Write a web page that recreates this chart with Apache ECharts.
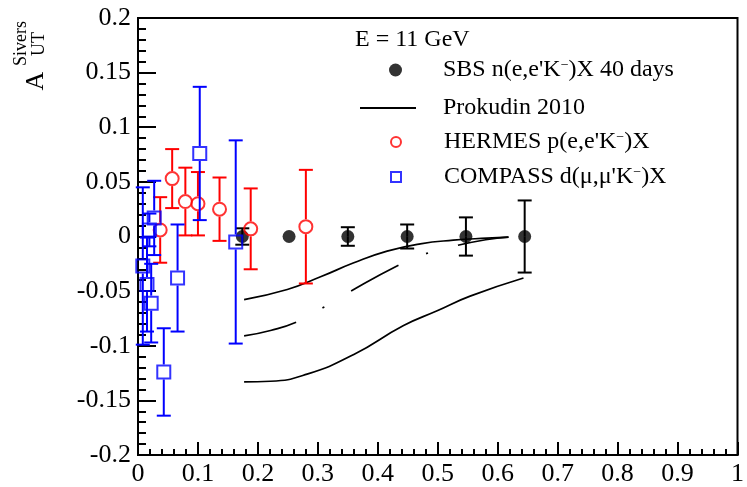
<!DOCTYPE html>
<html>
<head>
<meta charset="utf-8">
<script src="https://cdn.jsdelivr.net/npm/echarts@6/dist/echarts.min.js"></script>
<style>
  html, body { margin: 0; padding: 0; background: #fff; }
  #chart { width: 747px; height: 487px; }
</style>
</head>
<body>
<div id="chart"></div>
<script>
// Tick labels
const xTickLabels = ['0', '0.1', '0.2', '0.3', '0.4', '0.5', '0.6', '0.7', '0.8', '0.9', '1'];
const yTickLabels = ['-0.2', '-0.15', '-0.1', '-0.05', '0', '0.05', '0.1', '0.15', '0.2'];

// SBS n(e,e'K-)X projection, 40 days
const sbsX   = [0.174, 0.252, 0.350, 0.449, 0.547, 0.645];
const sbsY   = [0.000, 0.000, 0.000, 0.000, 0.000, 0.000];
const sbsErr = [0.0075, 0.004, 0.0085, 0.011, 0.0175, 0.033];

// HERMES p(e,e'K-)X
const hermesX   = [0.037, 0.057, 0.079, 0.100, 0.136, 0.188, 0.280];
const hermesY   = [0.006, 0.053, 0.032, 0.030, 0.025, 0.007, 0.009];
const hermesErr = [0.030, 0.027, 0.031, 0.029, 0.029, 0.037, 0.052];

// COMPASS d(mu,mu'K-)X
const compassX   = [0.008, 0.015, 0.022, 0.019, 0.027, 0.043, 0.066, 0.103, 0.163];
const compassY   = [-0.027, -0.044, -0.061, 0.006, 0.017, -0.124, -0.038, 0.076, -0.005];
const compassErr = [0.072, 0.043, 0.036, 0.015, 0.034, 0.040, 0.049, 0.061, 0.093];

// Prokudin 2010 prediction: upper band edge, central curve, lower band edge
const prokUpperX = [0.177, 0.249, 0.3045, 0.360, 0.4155, 0.471, 0.526, 0.582, 0.618];
const prokUpperY = [-0.0577, -0.0485, -0.0369, -0.0241, -0.0134, -0.0067, -0.0034, -0.0015, -0.0006];
const prokMidX = [0.177, 0.221, 0.266, 0.309, 0.352, 0.432, 0.479, 0.526, 0.580, 0.618];
const prokMidY = [-0.091, -0.086, -0.078, -0.065, -0.051, -0.027, -0.016, -0.009, -0.003, -0.0006];
const prokLowX = [0.177, 0.221, 0.282, 0.360, 0.443, 0.499, 0.554, 0.643];
const prokLowY = [-0.133, -0.1325, -0.126, -0.108, -0.0815, -0.068, -0.0546, -0.038];

const SBS_NAME = "SBS n(e,e'K⁻)X 40 days";
const PROK_NAME = 'Prokudin 2010';
const HERMES_NAME = "HERMES p(e,e'K⁻)X";
const COMPASS_NAME = "COMPASS d(μ,μ'K⁻)X";

const FONT = '"Liberation Serif", "Times New Roman", serif';
const RED = '#ff0000';
const BLUE = '#0000ff';
const BLACK = '#000000';

const pairs = (xs, ys) => xs.map((x, i) => [x, ys[i]]);
const triples = (xs, ys, es) => xs.map((x, i) => [x, ys[i], es[i]]);

// Vertical error bars with end caps; the bar is interrupted around hollow
// markers and omitted when it would not reach past the marker
function errorBars(xs, ys, es, color, gap, minLen, z) {
  return {
    type: 'custom',
    z: z,
    silent: true,
    data: triples(xs, ys, es),
    encode: { x: 0, y: 1 },
    renderItem: function (params, api) {
      const x = api.value(0), y = api.value(1), e = api.value(2);
      const c = api.coord([x, y]);
      const t = api.coord([x, y + e]);
      const b = api.coord([x, y - e]);
      const cap = 7;
      const style = { stroke: color, lineWidth: 2, fill: null };
      const kids = [];
      if (c[1] - t[1] < minLen) {
        return { type: 'group', children: [] };
      }
      if (t[1] < c[1] - gap) {
        kids.push({ type: 'line', shape: { x1: c[0], y1: c[1] - gap, x2: c[0], y2: t[1] }, style });
      }
      if (b[1] > c[1] + gap) {
        kids.push({ type: 'line', shape: { x1: c[0], y1: c[1] + gap, x2: c[0], y2: b[1] }, style });
      }
      kids.push({ type: 'line', shape: { x1: c[0] - cap, y1: t[1], x2: c[0] + cap, y2: t[1] }, style });
      kids.push({ type: 'line', shape: { x1: c[0] - cap, y1: b[1], x2: c[0] + cap, y2: b[1] }, style });
      return { type: 'group', children: kids };
    }
  };
}

function legendText(padLeft) {
  return {
    fontFamily: FONT,
    fontSize: 24,
    lineHeight: 24,
    color: BLACK,
    padding: [0, 0, 0, padLeft],
    rich: {
      sup: { fontFamily: FONT, fontSize: 14, lineHeight: 10, verticalAlign: 'top', color: BLACK }
    }
  };
}
const legendFormatter = name => name.replace('⁻', '{sup|−}');

// Serif tick labels via a rich style
const tickRich = { t: { fontFamily: FONT, fontSize: 26, color: BLACK, lineHeight: 26 } };

const chart = echarts.init(document.getElementById('chart'), null, { renderer: 'canvas' });

chart.setOption({
  animation: false,
  backgroundColor: '#ffffff',
  textStyle: { fontFamily: FONT },
  grid: {
    left: 138, right: 9, top: 18, bottom: 32,
    show: true, borderColor: BLACK, borderWidth: 2, backgroundColor: 'transparent'
  },
  xAxis: {
    type: 'value', min: 0, max: 1, interval: 0.1,
    axisLine: { show: true, onZero: false, lineStyle: { color: BLACK, width: 2 } },
    axisTick: { show: true, inside: true, length: 13, lineStyle: { color: BLACK, width: 2 } },
    minorTick: { show: true, splitNumber: 5, length: 6, lineStyle: { color: BLACK, width: 2 } },
    splitLine: { show: false },
    axisLabel: {
      fontFamily: FONT, fontSize: 26, color: BLACK, margin: 6, rich: tickRich,
      formatter: v => '{t|' + xTickLabels[Math.round(v / 0.1)] + '}'
    }
  },
  yAxis: {
    type: 'value', min: -0.2, max: 0.2, interval: 0.05,
    axisLine: { show: true, onZero: false, lineStyle: { color: BLACK, width: 2 } },
    axisTick: { show: true, inside: true, length: 18, lineStyle: { color: BLACK, width: 2 } },
    minorTick: { show: true, splitNumber: 5, length: 8, lineStyle: { color: BLACK, width: 2 } },
    splitLine: { show: false },
    axisLabel: {
      fontFamily: FONT, fontSize: 26, color: BLACK, margin: 7, rich: tickRich,
      formatter: v => '{t|' + yTickLabels[Math.round((v + 0.2) / 0.05)] + '}'
    }
  },
  legend: [
    {
      selectedMode: false, padding: 0, left: 389, top: 58,
      itemWidth: 13, itemHeight: 13,
      textStyle: legendText(36), formatter: legendFormatter,
      data: [{ name: SBS_NAME, icon: 'circle', itemStyle: { color: BLACK, borderWidth: 0 } }]
    },
    {
      selectedMode: false, padding: 0, left: 360, top: 96,
      itemWidth: 56, itemHeight: 2,
      textStyle: legendText(22), formatter: legendFormatter,
      data: [{ name: PROK_NAME, icon: 'rect', itemStyle: { color: BLACK, borderWidth: 0 } }]
    },
    {
      selectedMode: false, padding: 0, left: 390, top: 130, orient: 'vertical',
      itemWidth: 10, itemHeight: 10, itemGap: 11,
      textStyle: legendText(38), formatter: legendFormatter,
      data: [
        { name: HERMES_NAME, icon: 'circle', itemStyle: { color: 'rgba(0,0,0,0)', borderColor: RED, borderWidth: 2 } },
        { name: COMPASS_NAME, icon: 'rect', itemStyle: { color: 'rgba(0,0,0,0)', borderColor: BLUE, borderWidth: 2 } }
      ]
    }
  ],
  graphic: [
    { type: 'text', x: 355, y: 40, silent: true,
      style: { text: 'E = 11 GeV', font: '24px "Liberation Serif"', fill: BLACK, textAlign: 'left', textVerticalAlign: 'middle' } },
    { type: 'text', x: 36.5, y: 81, rotation: Math.PI / 2, silent: true,
      style: { text: 'A', font: '26px "Liberation Serif"', fill: BLACK, textAlign: 'center', textVerticalAlign: 'middle' } },
    { type: 'text', x: 21, y: 43.5, rotation: Math.PI / 2, silent: true,
      style: { text: 'Sivers', font: '18px "Liberation Serif"', fill: BLACK, textAlign: 'center', textVerticalAlign: 'middle' } },
    { type: 'text', x: 39, y: 44, rotation: Math.PI / 2, silent: true,
      style: { text: 'UT', font: '18px "Liberation Serif"', fill: BLACK, textAlign: 'center', textVerticalAlign: 'middle' } }
  ],
  series: [
    errorBars(sbsX, sbsY, sbsErr, BLACK, 0, 6.5, 2),
    {
      name: SBS_NAME, type: 'scatter', z: 3, symbol: 'circle', symbolSize: 13,
      itemStyle: { color: BLACK },
      emphasis: { disabled: true },
      data: pairs(sbsX, sbsY)
    },
    {
      name: PROK_NAME, type: 'line', z: 4, smooth: 0.5, symbol: 'none',
      itemStyle: { color: BLACK }, lineStyle: { color: BLACK, width: 1.7 },
      emphasis: { disabled: true },
      data: pairs(prokUpperX, prokUpperY)
    },
    {
      name: 'Prokudin 2010 central', type: 'line', z: 4, smooth: 0.5, symbol: 'none',
      itemStyle: { color: BLACK }, lineStyle: { color: BLACK, width: 1.7, type: [54, 30, 2, 31] },
      emphasis: { disabled: true },
      data: pairs(prokMidX, prokMidY)
    },
    {
      name: 'Prokudin 2010 lower', type: 'line', z: 4, smooth: 0.5, symbol: 'none',
      itemStyle: { color: BLACK }, lineStyle: { color: BLACK, width: 1.7 },
      emphasis: { disabled: true },
      data: pairs(prokLowX, prokLowY)
    },
    errorBars(hermesX, hermesY, hermesErr, RED, 7.5, 0, 5),
    {
      name: HERMES_NAME, type: 'scatter', z: 6, symbol: 'circle', symbolSize: 13,
      itemStyle: { color: 'rgba(0,0,0,0)', borderColor: RED, borderWidth: 2 },
      emphasis: { disabled: true },
      data: pairs(hermesX, hermesY)
    },
    errorBars(compassX, compassY, compassErr, BLUE, 7.5, 0, 7),
    {
      name: COMPASS_NAME, type: 'scatter', z: 8, symbol: 'rect', symbolSize: 13,
      itemStyle: { color: 'rgba(0,0,0,0)', borderColor: BLUE, borderWidth: 2 },
      emphasis: { disabled: true },
      data: pairs(compassX, compassY)
    }
  ]
});
</script>
</body>
</html>
